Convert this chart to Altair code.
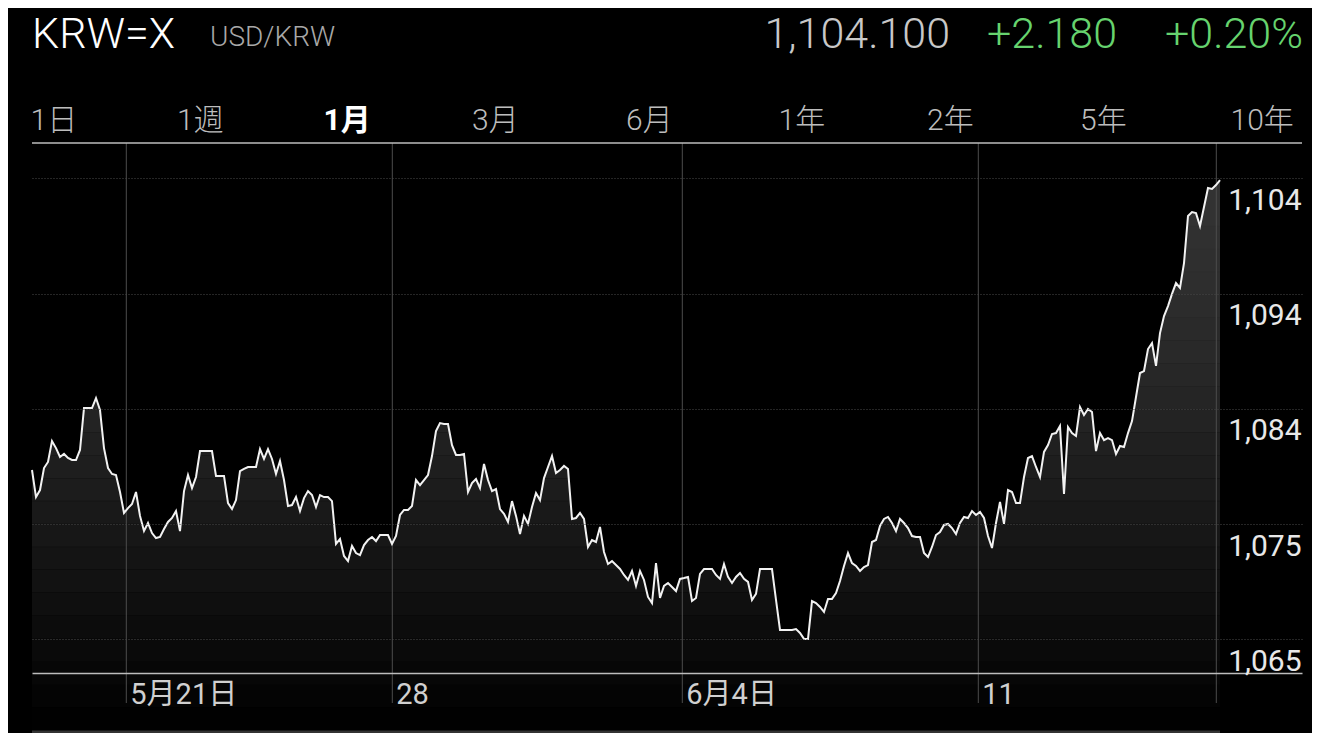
"""USD/KRW one-month chart in the style of the iOS Stocks app, drawn with Altair."""

import altair as alt
import pandas as pd


# header texts
SYMBOL = "KRW=X"
PAIR = "USD/KRW"
LAST = "1,104.100"
CHANGE = "+2.180"
CHANGE_PCT = "+0.20%"

# period selector
PERIODS = ["1日", "1週", "1月", "3月", "6月", "1年", "2年", "5年", "10年"]
SELECTED = "1月"

# USD/KRW rate, one sample per step
RATES = [
    1079.20, 1076.88, 1077.48, 1079.37, 1079.89, 1081.68, 1081.08, 1080.32, 1080.58, 1080.23,
    1080.06, 1080.06, 1080.92, 1084.52, 1084.52, 1084.52, 1085.38, 1084.35, 1081.08, 1079.37,
    1078.86, 1078.77, 1077.31, 1075.51, 1075.93, 1076.28, 1077.31, 1075.26, 1073.96, 1074.65,
    1073.79, 1073.36, 1073.45, 1074.14, 1074.74, 1075.08, 1075.68, 1073.96, 1077.39, 1078.77,
    1077.65, 1078.60, 1080.83, 1080.83, 1080.83, 1080.83, 1078.69, 1078.69, 1078.69, 1076.36,
    1075.85, 1076.62, 1079.11, 1079.29, 1079.46, 1079.46, 1079.46, 1081.00, 1080.15, 1081.00,
    1080.15, 1078.86, 1079.97, 1078.34, 1076.11, 1076.19, 1076.88, 1075.68, 1076.79, 1077.39,
    1077.05, 1076.02, 1077.05, 1076.88, 1076.88, 1076.53, 1072.85, 1073.28, 1071.82, 1071.38,
    1072.68, 1072.07, 1071.90, 1072.76, 1073.19, 1073.45, 1073.10, 1073.62, 1073.62, 1073.62,
    1072.85, 1073.53, 1075.34, 1075.77, 1075.77, 1076.11, 1078.34, 1077.91, 1078.34, 1078.77,
    1080.40, 1082.54, 1083.23, 1083.15, 1083.15, 1081.34, 1080.49, 1080.49, 1080.58, 1077.31,
    1078.08, 1078.43, 1077.65, 1079.72, 1078.34, 1077.39, 1077.57, 1075.85, 1075.43, 1074.74,
    1076.53, 1075.26, 1073.71, 1075.26, 1074.57, 1076.02, 1077.22, 1076.62, 1078.51, 1079.46,
    1080.40, 1078.94, 1079.20, 1079.55, 1079.29, 1075.00, 1075.08, 1075.51, 1075.00, 1072.59,
    1073.19, 1073.02, 1074.31, 1072.16, 1071.13, 1071.38, 1071.04, 1070.70, 1070.19, 1069.76,
    1070.53, 1069.25, 1070.53, 1069.76, 1068.30, 1067.78, 1071.21, 1068.21, 1069.25, 1069.50,
    1069.16, 1068.81, 1069.85, 1069.93, 1070.02, 1067.95, 1068.21, 1070.28, 1070.70, 1070.70,
    1070.70, 1070.19, 1069.85, 1071.13, 1070.02, 1069.50, 1070.02, 1070.36, 1069.85, 1069.59,
    1068.04, 1068.56, 1070.70, 1070.70, 1070.70, 1070.70, 1068.04, 1065.47, 1065.47, 1065.47,
    1065.47, 1065.55, 1065.21, 1064.70, 1064.70, 1067.95, 1067.78, 1067.44, 1067.01, 1068.13,
    1068.13, 1068.64, 1069.67, 1070.96, 1072.07, 1071.21, 1070.96, 1070.53, 1070.87, 1071.04,
    1073.02, 1073.19, 1074.40, 1075.00, 1075.17, 1074.65, 1073.96, 1075.00, 1074.65, 1074.22,
    1073.53, 1073.45, 1073.45, 1072.07, 1071.73, 1072.59, 1073.62, 1073.88, 1074.48, 1074.57,
    1074.22, 1073.71, 1074.65, 1075.17, 1075.08, 1075.68, 1075.34, 1075.60, 1075.08, 1073.53,
    1072.50, 1074.65, 1076.45, 1074.57, 1077.48, 1077.31, 1076.36, 1076.36, 1078.60, 1080.23,
    1080.40, 1079.46, 1078.60, 1080.75, 1081.34, 1082.29, 1082.37, 1082.98, 1077.14, 1082.89,
    1082.37, 1082.12, 1084.61, 1083.92, 1084.44, 1084.18, 1080.83, 1082.37, 1081.77, 1081.94,
    1081.77, 1080.58, 1081.26, 1081.17, 1082.37, 1083.40, 1085.47, 1087.53, 1087.70, 1089.59,
    1090.10, 1088.14, 1090.96, 1092.42, 1093.28, 1094.32, 1095.25, 1094.83, 1096.97, 1101.01,
    1101.35, 1101.26, 1100.15, 1101.78, 1103.41, 1103.33, 1103.67, 1104.10,
]

# week starts, as (fractional) sample index, and their labels
TICK_POS = [23.575, 90.075, 162.575, 236.575, 296.075]
TICK_LABELS = ["5月21日", "28", "6月4日", "11", ""]

# horizontal grid levels
Y_TICKS = [1064.65, 1074.55, 1084.45, 1094.35, 1104.25]
Y_DOMAIN = [1061.77, 1107.28]

# layout
W, H = 1270, 530
FILL_TOP, FILL_BOTTOM = 37, H + 57  # pixel span of the area's fade
FONT = "Roboto, 'Noto Sans CJK JP', sans-serif"
PERIOD_X = [-1.5, 145, 292.5, 440, 594, 746.5, 895, 1048, 1198.5]


def text_layer(text, x, y, size, color, align="left", weight="normal"):
    """One piece of fixed text placed in pixels relative to the plot."""
    return (
        alt.Chart(pd.DataFrame({"t": [text]}))
        .mark_text(
            align=align,
            baseline="alphabetic",
            fontSize=size,
            color=color,
            font=FONT,
            fontWeight=weight,
        )
        .encode(x=alt.value(x), y=alt.value(y), text="t:N")
    )


def fade_layers(steps=24):
    """Black bands of rising opacity laid over the area, so it fades out downward."""
    one = pd.DataFrame({"t": [0]})
    span = (FILL_BOTTOM - FILL_TOP) / steps
    layers = []
    for i in range(steps):
        top = FILL_TOP + i * span
        alpha = min(1.0, ((i + 0.5) / steps) ** 1.4)
        layers.append(
            alt.Chart(one)
            .mark_rect(color="#000000", opacity=alpha, strokeWidth=0)
            .encode(
                x=alt.value(0),
                x2=alt.value(W),
                y=alt.value(top),
                y2=alt.value(top + span + 0.5),
            )
        )
    return layers


def build_chart():
    df = pd.DataFrame({"idx": range(len(RATES)), "rate": RATES})
    ticks = pd.DataFrame({"pos": TICK_POS, "label": TICK_LABELS})

    x_scale = alt.Scale(domain=[0, W / 4], nice=False, zero=False)
    y_scale = alt.Scale(domain=Y_DOMAIN, nice=False, zero=False)

    x_axis = alt.Axis(
        title=None,
        labels=False,
        ticks=False,
        grid=False,
        domainColor="#bdbdbd",
        domainWidth=1.5,
        zindex=1,
    )
    y_axis = alt.Axis(
        title=None,
        orient="right",
        values=Y_TICKS,
        format=",.0f",
        domain=False,
        ticks=False,
        tickSize=0,
        grid=True,
        gridColor="#4a4a4a",
        gridDash=[1, 2],
        gridWidth=1,
        labelAlign="right",
        labelBaseline="alphabetic",
        labelOffset=31,
        labelPadding=-1,
        labelFontSize=30,
        labelColor="#e8e8e8",
        labelFont=FONT,
        labelOverlap=False,
        labelFlush=False,
        zindex=1,
    )

    x = alt.X("idx:Q", scale=x_scale, axis=x_axis)
    y = alt.Y("rate:Q", scale=y_scale, axis=y_axis)

    area = (
        alt.Chart(df)
        .mark_area(color="#333333", opacity=1)
        .encode(x=x, y=y, y2=alt.value(FILL_BOTTOM))
    )
    line = alt.Chart(df).mark_line(color="#f2f2f2", strokeWidth=2).encode(x=x, y=y)

    week_rules = (
        alt.Chart(ticks)
        .mark_rule(color="#4d4d4d", strokeWidth=1)
        .encode(
            x=alt.X("pos:Q", scale=x_scale, axis=x_axis),
            y=alt.value(0),
            y2=alt.value(H + 30),
        )
    )
    week_labels = (
        alt.Chart(ticks)
        .mark_text(
            align="left",
            baseline="alphabetic",
            dx=4,
            fontSize=29,
            color="#d0d0d0",
            font=FONT,
        )
        .encode(
            x=alt.X("pos:Q", scale=x_scale, axis=x_axis),
            y=alt.value(H + 31),
            text="label:N",
        )
    )

    top_rule = (
        alt.Chart(pd.DataFrame({"t": [0]}))
        .mark_rule(color="#bdbdbd", strokeWidth=1.5)
        .encode(x=alt.value(0), x2=alt.value(W), y=alt.value(0))
    )

    header = [
        text_layer(SYMBOL, 0, -95, 43, "#ffffff", weight=300),
        text_layer(PAIR, 178, -97, 28, "#a8a8a8", weight=300),
        text_layer(LAST, 918, -95, 43, "#c8c8c8", align="right", weight=300),
        text_layer(CHANGE, 1085, -95, 43, "#66d36e", align="right", weight=300),
        text_layer(CHANGE_PCT, 1271, -95, 43, "#66d36e", align="right", weight=300),
    ]

    periods = []
    for label, px in zip(PERIODS, PERIOD_X):
        if label == SELECTED:
            periods.append(text_layer(label, px - 1, -13, 30, "#ffffff", weight="bold"))
        else:
            periods.append(text_layer(label, px, -13, 30, "#bdbdbd", weight=300))

    chart = (
        alt.layer(
            area,
            *fade_layers(),
            week_rules,
            line,
            week_labels,
            top_rule,
            *header,
            *periods,
        )
        .properties(
            width=W,
            height=H,
            autosize=alt.AutoSizeParams(type="none"),
            padding={"left": 24, "top": 135, "right": 10, "bottom": 60},
            background="#000000",
        )
        .configure_view(strokeWidth=0)
    )
    return chart


def main():
    chart = build_chart()
    chart.save("out.html", embed_options={"renderer": "svg", "actions": False})


if __name__ == "__main__":
    main()
